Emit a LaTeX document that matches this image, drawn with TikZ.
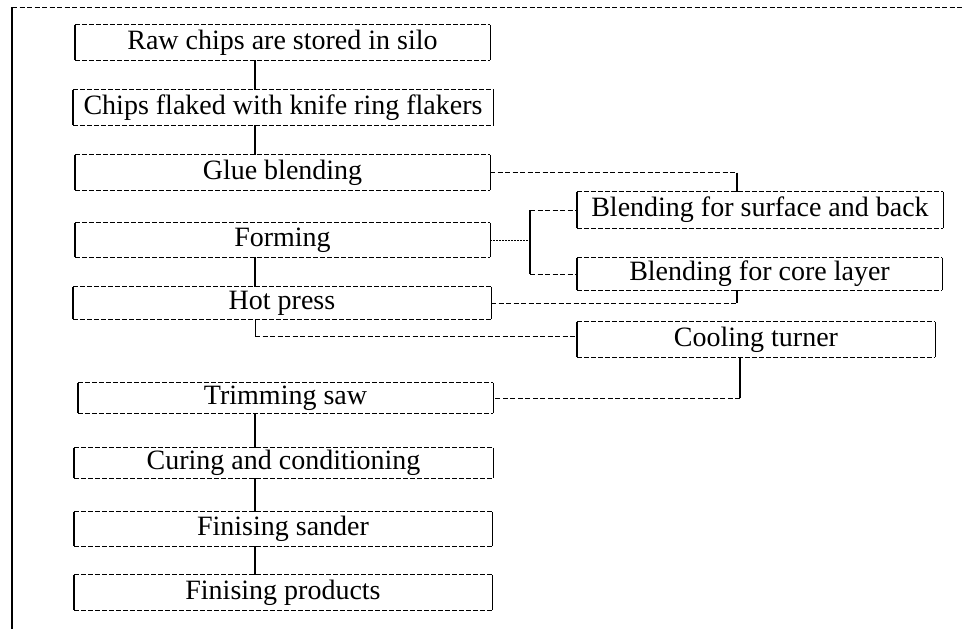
\documentclass[tikz,border=0pt]{standalone}
\usepackage{fontspec}
\setmainfont{Liberation Serif}
\tikzset{
  procbox/.style={inner sep=0pt, font=\fontsize{28}{30}\selectfont},
  side/.style={line width=1.4pt},
  rim/.style={line width=0.7pt, dash pattern=on 5pt off 2pt},
  vlink/.style={line width=1.3pt},
  hlink/.style={line width=0.7pt, dash pattern=on 5pt off 2.5pt},
  dotlink/.style={line width=0.7pt, dash pattern=on 1.5pt off 1.5pt},
}
\newcommand\procnode[6]{%
  \node[procbox, minimum width={(#4-#2)*1pt}, minimum height={(#5-#3)*1pt}]
    (#1) at ({(#2+#4)/2},{(#3+#5)/2}) {#6};
  \draw[rim] (#1.north west) -- (#1.north east);
  \draw[rim] (#1.south west) -- (#1.south east);
  \draw[side] (#1.north west) -- (#1.south west);
  \draw[side] (#1.north east) -- (#1.south east);
}
\begin{document}
\begin{tikzpicture}[x=1pt,y=-1pt]
\useasboundingbox (0,0) rectangle (962,629);
% frame
\coordinate (fa) at (12,7);
\coordinate (fb) at (12,629);
\coordinate (fc) at (962,7);
\draw[line width=1.4pt] (fa) -- (fb);
\draw[hlink] (fa) -- (fc);
% left column
\procnode{raw}{75}{25}{490}{60}{Raw chips are stored in silo}
\procnode{chips}{73}{90}{493}{125}{Chips flaked with knife ring flakers}
\procnode{glue}{75}{155}{490}{190}{Glue blending}
\procnode{form}{75}{223}{490}{257}{Forming}
\procnode{hot}{73}{287}{491}{319}{Hot press}
\procnode{trim}{78}{383}{493}{413}{Trimming saw}
\procnode{cure}{74}{448}{493}{478}{Curing and conditioning}
\procnode{sand}{74}{512}{492}{546}{Finising sander}
\procnode{prod}{74}{575}{492}{610}{Finising products}
% right column
\procnode{surf}{577}{192}{943}{228}{Blending for surface and back}
\procnode{core}{577}{258}{942}{290}{Blending for core layer}
\procnode{cool}{577}{322}{935}{357}{Cooling turner}
% guide coordinates
\coordinate (vx) at (255,0);
\coordinate (vs) at (737,0);
\coordinate (bx) at (530,0);
\coordinate (cx) at (740,0);
\coordinate (hd) at (255,336);
% vertical links
\draw[vlink] (raw.south -| vx) -- (chips.north -| vx);
\draw[vlink] (chips.south -| vx) -- (glue.north -| vx);
\draw[vlink] (form.south -| vx) -- (hot.north -| vx);
\draw[vlink] (trim.south -| vx) -- (cure.north -| vx);
\draw[vlink] (cure.south -| vx) -- (sand.north -| vx);
\draw[vlink] (sand.south -| vx) -- (prod.north -| vx);
% glue -> surface
\draw[hlink] (glue.east) -- (glue.east -| vs);
\draw[vlink] (glue.east -| vs) -- (surf.north -| vs);
% forming bracket
\draw[dotlink] (form.east) -- (form.east -| bx);
\draw[vlink] (surf.west -| bx) -- (core.west -| bx);
\draw[hlink] (surf.west -| bx) -- (surf.west);
\draw[hlink] (core.west -| bx) -- (core.west);
% hot press -> core
\draw[hlink] (hot.east) -- (hot.east -| vs);
\draw[vlink] (hot.east -| vs) -- (core.south -| vs);
% hot press -> cooling turner
\draw[line width=0.9pt] (hot.south -| vx) -- (hd);
\draw[hlink] (hd) -- (hd -| cool.west);
% cooling turner -> trimming saw
\draw[vlink] (cool.south -| cx) -- (cx |- trim.east);
\draw[hlink] (cx |- trim.east) -- (trim.east);
\end{tikzpicture}
\end{document}
